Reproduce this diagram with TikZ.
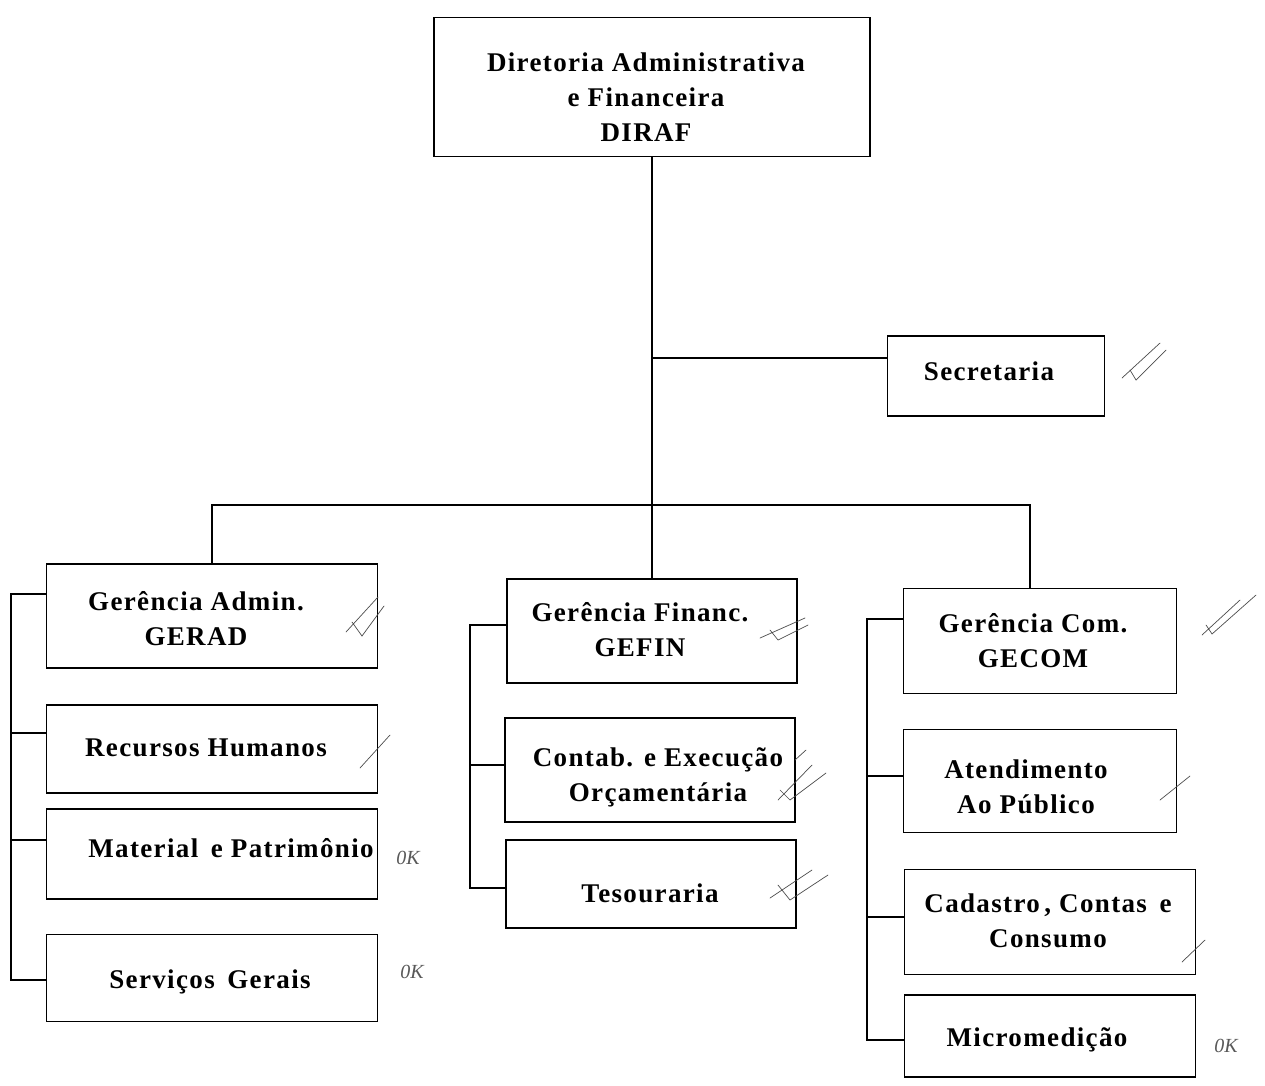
\documentclass[tikz,border=0pt]{standalone}
\usepackage{fontspec}
\setmainfont{Liberation Serif}
\newfontfamily\spaced[LetterSpace=5]{Liberation Serif}
\begin{document}
\begin{tikzpicture}[x=1pt,y=-1pt,line width=1.1pt,
  box/.style={draw,inner sep=0pt},
  lbl/.style={inner sep=0pt,align=center,font=\spaced\fontsize{27}{35}\selectfont\bfseries},
  pen/.style={line width=0.7pt,black!70,line cap=round},
  hand/.style={font=\fontsize{20}{20}\selectfont\itshape,text=black!65}]
\useasboundingbox[fill=white] (0,0) rectangle (1265,1085);
% boxes
\node[box,minimum width=436,minimum height=139] (diraf) at (652,87) {};
\node[box,minimum width=217,minimum height=80] (sec) at (996,376) {};
\node[box,minimum width=331,minimum height=104] (gerad) at (212,616) {};
\node[box,minimum width=331,minimum height=88] (rh) at (212,749) {};
\node[box,minimum width=331,minimum height=90] (mp) at (212,854) {};
\node[box,minimum width=331,minimum height=87] (sg) at (212,978) {};
\node[box,minimum width=290,minimum height=104] (gefin) at (652,631) {};
\node[box,minimum width=290,minimum height=104] (contab) at (650,770) {};
\node[box,minimum width=290,minimum height=88] (tes) at (651,884) {};
\node[box,minimum width=273,minimum height=105] (gecom) at (1040,641) {};
\node[box,minimum width=273,minimum height=103] (atend) at (1040,781) {};
\node[box,minimum width=291,minimum height=105] (cad) at (1050,922) {};
\node[box,minimum width=291,minimum height=82] (micro) at (1050,1036) {};
% texts
\node[lbl] (diraf-t) at (646,97) {Diretoria Administrativa\\e Financeira\\DIRAF};
\node[lbl] (sec-t) at (989,371) {Secretaria};
\node[lbl] (gerad-t) at (196,619) {Gerência Admin.\\GERAD};
\node[lbl] (rh-t) at (206,748) {Recursos Humanos};
\node[lbl] (mp-t) at (231,848) {Material\, e Patrimônio};
\node[lbl] (sg-t) at (210,982) {Serviços\, Gerais};
\node[lbl] (gefin-t) at (640,630) {Gerência Financ.\\GEFIN};
\node[lbl] (contab-t) at (658,777) {Contab. e Execução\\Orçamentária};
\node[lbl] (tes-t) at (650,893) {Tesouraria};
\node[lbl] (gecom-t) at (1033,641) {Gerência Com.\\GECOM};
\node[lbl] (atend-t) at (1026,787) {Atendimento\\Ao Público};
\node[lbl] (cad-t) at (1048,921) {Cadastro\,, Contas\, e\\Consumo};
\node[lbl] (micro-t) at (1037,1040) {Micromedição};
% coordinates
\coordinate (busL) at (212,505);
\coordinate (busR) at (1030,505);
\coordinate (secj) at (652,358);
\coordinate (L1) at (11,594);
\coordinate (L2) at (11,733);
\coordinate (L3) at (11,840);
\coordinate (L4) at (11,980);
\coordinate (M1) at (470,625);
\coordinate (M2) at (470,765);
\coordinate (M3) at (470,888);
\coordinate (R1) at (867,619);
\coordinate (R2) at (867,776);
\coordinate (R3) at (867,917);
\coordinate (R4) at (867,1040);
% connectors
\draw (diraf.south) -- (gefin.north);
\draw (secj) -- (sec.west |- secj);
\draw (gerad.north) -- (busL) -- (busR) -- (busR |- gecom.north);
\draw (gerad.west |- L1) -- (L1) -- (L4) -- (sg.west |- L4);
\draw (L2) -- (rh.west |- L2);
\draw (L3) -- (mp.west |- L3);
\draw (gefin.west |- M1) -- (M1) -- (M3) -- (tes.west |- M3);
\draw (M2) -- (contab.west |- M2);
\draw (gecom.west |- R1) -- (R1) -- (R4) -- (micro.west |- R4);
\draw (R2) -- (atend.west |- R2);
\draw (R3) -- (cad.west |- R3);
% handwritten marks
\draw[pen] (346,632) -- (378,597) (352,622) -- (362,636) -- (384,606);
\draw[pen] (1122,378) -- (1160,343) (1130,370) -- (1136,380) -- (1166,350);
\draw[pen] (360,768) -- (390,735);
\draw[pen] (760,638) -- (805,618) (770,630) -- (778,640) -- (808,625);
\draw[pen] (778,800) -- (812,765) (780,790) -- (790,800) -- (826,773) (795,760) -- (806,750);
\draw[pen] (770,898) -- (812,870) (778,885) -- (790,900) -- (828,875);
\draw[pen] (1202,635) -- (1240,600) (1206,625) -- (1212,634) -- (1256,595);
\draw[pen] (1160,800) -- (1190,776);
\draw[pen] (1182,962) -- (1205,940);
\node[hand] (ok1) at (408,858) {0K};
\node[hand] (ok2) at (412,972) {0K};
\node[hand] (ok3) at (1226,1046) {0K};
\end{tikzpicture}
\end{document}
